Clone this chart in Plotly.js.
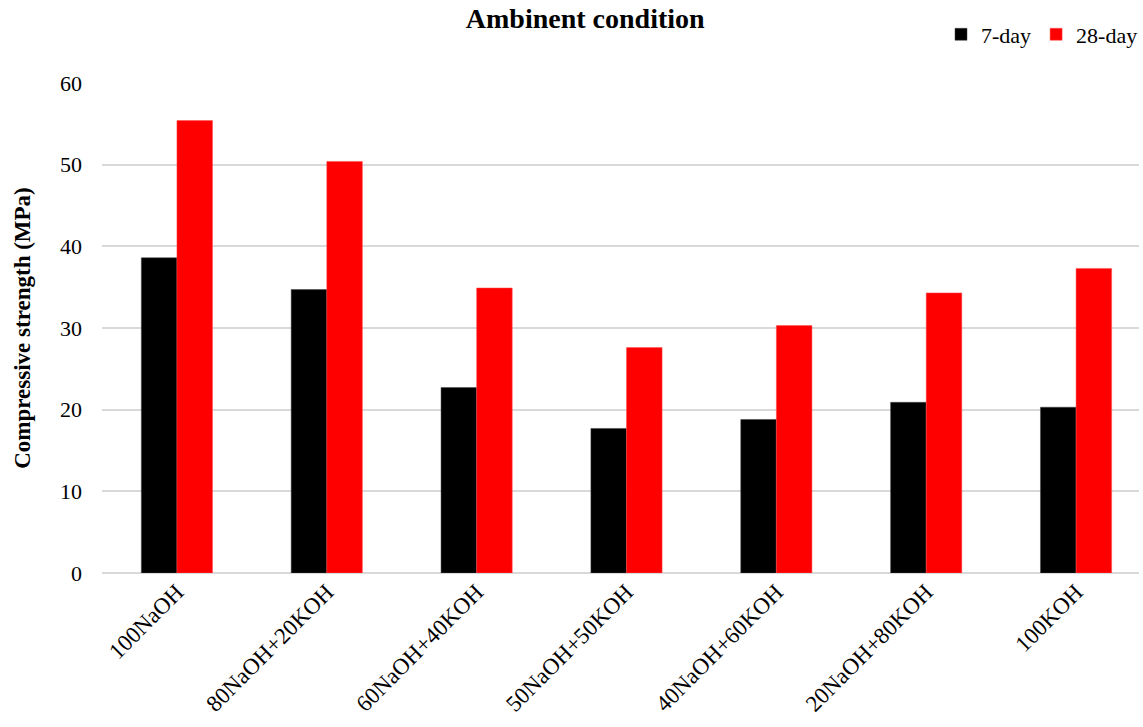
<!DOCTYPE html>
<html>
<head>
<meta charset="utf-8">
<script src="https://cdn.plot.ly/plotly-3.0.1.min.js"></script>
<style>
  html, body { margin: 0; padding: 0; background: #fff; overflow: hidden; }
  #chart { width: 1143px; height: 727px; }
</style>
</head>
<body>
<div id="chart"></div>
<script>
// Activator mixes (NaOH / KOH ratio)
const mixes = ["100NaOH", "80NaOH+20KOH", "60NaOH+40KOH", "50NaOH+50KOH",
               "40NaOH+60KOH", "20NaOH+80KOH", "100KOH"];

// Compressive strength (MPa)
const strength7day  = [38.6, 34.7, 22.7, 17.7, 18.8, 20.9, 20.3];
const strength28day = [55.4, 50.4, 34.9, 27.6, 30.3, 34.3, 37.3];

const serif = "Liberation Serif, Times New Roman, serif";

const traces = [
  {
    type: "bar", name: "7-day", x: mixes, y: strength7day,
    marker: { color: "#000000", line: { color: "#404040", width: 0.5 } }
  },
  {
    type: "bar", name: "28-day", x: mixes, y: strength28day,
    marker: { color: "#ff0000", line: { color: "#ff5050", width: 0.5 } }
  }
];

const layout = {
  width: 1143, height: 727,
  margin: { l: 102, r: 0, t: 83, b: 154 },
  paper_bgcolor: "#ffffff", plot_bgcolor: "#ffffff",
  font: { family: serif, color: "#000000", size: 22 },
  barmode: "group", bargap: 0.525, bargroupgap: 0,
  showlegend: true,
  title: {
    text: "<b>Ambinent condition</b>",
    font: { family: serif, size: 28, color: "#000000" },
    xref: "container", x: 0.512, xanchor: "center",
    yref: "container", y: 0.975, yanchor: "middle"
  },
  legend: {
    orientation: "h", x: 1.004, xanchor: "right", y: 1.099, yanchor: "middle",
    font: { family: serif, size: 22 }, itemwidth: 30, traceorder: "normal",
    bgcolor: "rgba(0,0,0,0)"
  },
  xaxis: {
    type: "category", range: [-0.5, 6.42],
    tickangle: -45, ticks: "", showgrid: false,
    showline: false, zeroline: false,
    tickfont: { family: serif, size: 23 }
  },
  yaxis: {
    range: [0, 60], dtick: 10, ticks: "",
    showgrid: true, gridcolor: "#d9d9d9", gridwidth: 1.8,
    zeroline: true, zerolinecolor: "#d9d9d9", zerolinewidth: 1.8,
    showline: false, ticklabelstandoff: 19,
    tickfont: { family: serif, size: 22 },
    title: {
      text: "<b>Compressive strength (MPa)</b>",
      font: { family: serif, size: 23 }, standoff: 22
    }
  }
};

Plotly.newPlot("chart", traces, layout, { displayModeBar: false, staticPlot: true });
</script>
</body>
</html>
